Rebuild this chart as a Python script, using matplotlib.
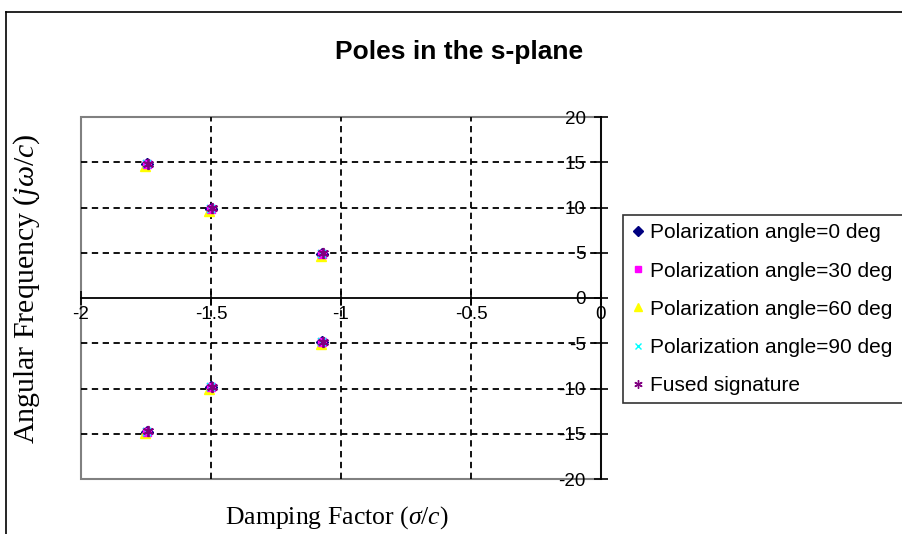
import numpy as np
import matplotlib.pyplot as plt
from matplotlib.patches import Rectangle
from matplotlib.lines import Line2D

plt.rcParams['mathtext.fontset'] = 'custom'
plt.rcParams['mathtext.rm'] = 'Liberation Serif'
plt.rcParams['mathtext.it'] = 'Liberation Serif:italic'

# Pole locations (sigma/c, omega/c) for each polarization and the fused signature
sigma_0 = [-1.745, -1.745, -1.500, -1.500, -1.072, -1.072]
omega_0 = [14.80, -14.80, 9.85, -9.85, 4.87, -4.87]
sigma_30 = [-1.745, -1.745, -1.500, -1.500, -1.072, -1.072]
omega_30 = [14.80, -14.80, 9.85, -9.85, 4.87, -4.87]
sigma_60 = [-1.752, -1.752, -1.507, -1.507, -1.078, -1.078]
omega_60 = [14.55, -14.95, 9.60, -10.00, 4.65, -5.05]
sigma_90 = [-1.745, -1.745, -1.500, -1.500, -1.072, -1.072]
omega_90 = [14.80, -14.80, 9.85, -9.85, 4.87, -4.87]
sigma_fused = [-1.743, -1.743, -1.498, -1.498, -1.070, -1.070]
omega_fused = [14.85, -14.75, 9.90, -9.80, 4.92, -4.82]

labels = ['Polarization angle=0 deg', 'Polarization angle=30 deg',
          'Polarization angle=60 deg', 'Polarization angle=90 deg',
          'Fused signature']

x_ticks = [-2, -1.5, -1, -0.5, 0]
y_ticks = [-20, -15, -10, -5, 0, 5, 10, 15, 20]

W, H = 903, 534
fig = plt.figure(figsize=(W / 100, H / 100), dpi=100)
ax = fig.add_axes([81 / W, 1 - 479 / H, 520 / W, 362 / H])

# outer chart frame
fig.add_artist(Line2D([6 / W, 6 / W], [0, 1 - 12 / H], color='black', lw=1.2))
fig.add_artist(Line2D([6 / W, 1], [1 - 12 / H, 1 - 12 / H], color='black', lw=1.2))

ax.set_xlim(-2, 0)
ax.set_ylim(-20, 20)

# gray plot-area border
ax.add_patch(Rectangle((0, 0), 1, 1, transform=ax.transAxes, fill=False,
                       edgecolor='#808080', lw=1.5, zorder=1, clip_on=False))
for s in ['top', 'right']:
    ax.spines[s].set_visible(False)
ax.spines['bottom'].set_position(('data', 0))
ax.spines['left'].set_position(('data', 0))
ax.spines['bottom'].set_linewidth(1.3)
ax.spines['left'].set_linewidth(1.3)

ax.set_xticks(x_ticks)
ax.set_xticklabels(['-2', '-1.5', '-1', '-0.5', '0'])
ax.set_yticks(y_ticks)
ax.set_yticklabels([str(v) for v in y_ticks])
ax.tick_params(axis='both', direction='inout', length=10, width=1.2,
               labelsize=13.5, pad=1)
ax.tick_params(axis='y', pad=6)
for lab in ax.get_xticklabels() + ax.get_yticklabels():
    lab.set_family('Liberation Sans')

# dashed grid lines
for xv in x_ticks[1:-1]:
    ax.axvline(xv, color='black', lw=1.3, ls=(0, (3.5, 2.5)), zorder=2)
for yv in y_ticks[1:-1]:
    if yv != 0:
        ax.axhline(yv, color='black', lw=1.3, ls=(0, (3.5, 2.5)), zorder=2)

ax.plot(sigma_0, omega_0, ls='none', marker='D', ms=6, color='#000080', zorder=3)
ax.plot(sigma_30, omega_30, ls='none', marker='s', ms=6, color='#ff00ff', zorder=4)
ax.plot(sigma_60, omega_60, ls='none', marker='^', ms=7, color='#ffff00', zorder=3.5)
ax.plot(sigma_90, omega_90, ls='none', marker='x', ms=6, mew=1.2, color='#00ffff', zorder=4.5)
ax.plot(sigma_fused, omega_fused, ls='none', marker=(6, 2, 0), ms=8, mew=1.3,
        color='#800080', zorder=5)

fig.text(459 / W, 1 - 52 / H, 'Poles in the s-plane', ha='center', va='center',
         fontsize=19, fontweight='bold', family='Liberation Sans')
fig.text(27 / W, 1 - 289 / H, r'Angular Frequency ($j\omega/c$)', rotation=90,
         ha='center', va='center', fontsize=21.5, family='Liberation Serif')
fig.text(337 / W, 1 - 518 / H, r'Damping Factor ($\sigma/c$)', ha='center',
         va='center', fontsize=18.5, family='Liberation Serif')

# legend entries
handles = [
    Line2D([], [], ls='none', marker='D', ms=5, color='#000080'),
    Line2D([], [], ls='none', marker='s', ms=5, color='#ff00ff'),
    Line2D([], [], ls='none', marker='^', ms=6, color='#ffff00'),
    Line2D([], [], ls='none', marker='x', ms=5, mew=1, color='#00ffff'),
    Line2D([], [], ls='none', marker=(6, 2, 0), ms=6, mew=1, color='#800080'),
]
leg = fig.legend(handles, labels, loc='upper left',
                 bbox_to_anchor=(623 / W, 1 - 225 / H, 280 / W, 10 / H),
                 mode='expand', borderaxespad=0, frameon=True, fancybox=False,
                 edgecolor='black', handlelength=0.6, handletextpad=0.3,
                 labelspacing=0.92, borderpad=0.4,
                 prop={'family': 'Liberation Sans', 'size': 15})
leg.get_frame().set_linewidth(1.2)

fig.savefig('out.png', dpi=100)
